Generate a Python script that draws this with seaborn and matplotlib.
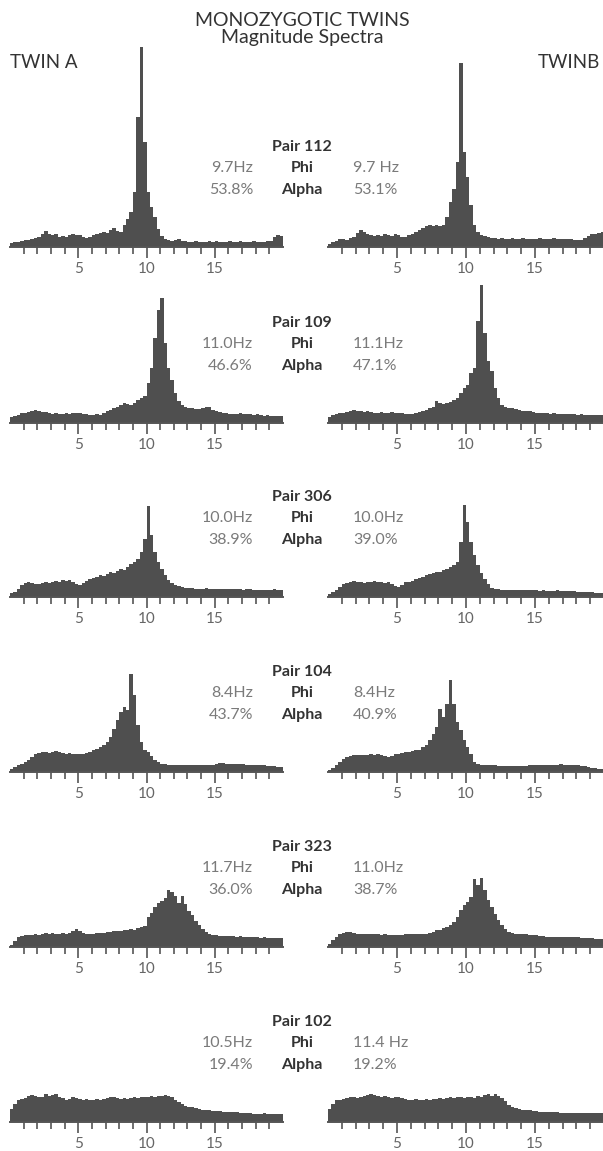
import numpy as np
import pandas as pd
import matplotlib
matplotlib.use("Agg")
import matplotlib.pyplot as plt
import seaborn as sns

sns.set_style("white")
plt.rcParams['font.family'] = ['Lato', 'DejaVu Sans']

# spectra: magnitude per 0.25 Hz bin, 0-20 Hz (80 bins)
bin_mid = np.arange(0, 20, 0.25) + 0.125

p112_a = [4, 5, 5, 6, 7, 7, 8, 9, 10, 13, 16, 13, 12, 13, 10, 11, 10, 12, 13, 12,
          12, 10, 9, 10, 12, 13, 14, 15, 14, 17, 19, 16, 15, 22, 28, 35, 55, 130, 200, 105,
          55, 40, 30, 18, 11, 8, 7, 6, 7, 8, 6, 6, 5, 5, 6, 5, 5, 5, 6, 5,
          6, 5, 5, 5, 6, 5, 5, 6, 5, 5, 5, 6, 5, 5, 5, 6, 6, 10, 12, 11]
p112_b = [3, 5, 6, 8, 8, 7, 9, 10, 14, 17, 15, 13, 12, 11, 12, 11, 13, 12, 11, 13,
          12, 10, 10, 12, 13, 15, 17, 19, 21, 22, 21, 22, 21, 22, 30, 45, 58, 85, 184, 95,
          70, 42, 22, 15, 12, 11, 10, 9, 9, 8, 9, 8, 8, 9, 8, 8, 9, 8, 8, 8,
          8, 9, 8, 8, 8, 9, 8, 8, 8, 8, 8, 7, 7, 7, 9, 11, 13, 13, 14, 15]
p109_a = [6, 7, 8, 10, 10, 11, 12, 13, 12, 11, 11, 10, 9, 10, 9, 9, 10, 9, 10, 10,
          10, 9, 9, 8, 8, 9, 8, 10, 12, 13, 15, 16, 18, 20, 19, 18, 20, 23, 25, 27,
          40, 55, 85, 113, 125, 80, 55, 43, 30, 22, 18, 16, 15, 15, 14, 14, 15, 16, 16, 13,
          12, 11, 10, 10, 9, 9, 9, 10, 9, 9, 9, 8, 9, 8, 7, 8, 7, 7, 7, 7]
p109_b = [6, 8, 9, 10, 10, 11, 12, 13, 12, 12, 11, 12, 11, 10, 10, 11, 10, 10, 11, 10,
          10, 10, 9, 9, 9, 10, 11, 12, 13, 15, 16, 22, 20, 19, 20, 21, 23, 25, 30, 35,
          38, 50, 55, 102, 138, 90, 62, 52, 35, 25, 18, 16, 15, 15, 14, 13, 12, 12, 12, 11,
          10, 10, 10, 10, 9, 10, 9, 9, 9, 9, 9, 9, 8, 9, 8, 8, 8, 8, 8, 8]
p306_a = [4, 5, 8, 12, 14, 15, 14, 13, 13, 14, 15, 14, 15, 16, 15, 17, 16, 17, 15, 13,
          12, 14, 16, 18, 19, 20, 22, 21, 23, 25, 24, 26, 28, 27, 30, 33, 35, 38, 45, 58,
          91, 62, 45, 35, 28, 22, 17, 14, 12, 11, 10, 9, 9, 9, 8, 8, 8, 9, 8, 8,
          8, 8, 8, 8, 8, 8, 8, 8, 7, 8, 8, 7, 7, 7, 7, 7, 7, 8, 7, 7]
p306_b = [3, 5, 7, 10, 13, 14, 15, 16, 15, 15, 14, 15, 15, 16, 15, 15, 14, 15, 13, 11,
          10, 12, 15, 15, 16, 18, 19, 20, 22, 23, 24, 25, 25, 27, 28, 30, 32, 35, 55, 92,
          75, 55, 42, 32, 24, 18, 13, 9, 8, 8, 7, 7, 7, 7, 7, 7, 7, 7, 7, 7,
          7, 6, 7, 6, 6, 6, 7, 6, 6, 6, 6, 6, 5, 5, 5, 5, 5, 4, 4, 4]
p104_a = [3, 5, 7, 8, 10, 12, 15, 18, 19, 20, 20, 19, 20, 21, 20, 19, 18, 19, 18, 18,
          18, 18, 19, 20, 22, 23, 25, 27, 30, 35, 43, 52, 60, 65, 62, 98, 77, 47, 30, 22,
          20, 16, 12, 10, 8, 8, 7, 7, 7, 7, 7, 7, 7, 7, 7, 7, 7, 7, 7, 7,
          8, 9, 9, 8, 8, 8, 8, 8, 8, 7, 7, 7, 7, 7, 7, 6, 6, 6, 5, 5]
p104_b = [2, 4, 7, 10, 13, 15, 16, 17, 17, 17, 17, 17, 18, 17, 18, 17, 16, 15, 16, 18,
          18, 19, 20, 20, 21, 22, 22, 25, 27, 32, 38, 45, 63, 55, 68, 92, 68, 50, 42, 32,
          25, 18, 10, 8, 7, 7, 7, 7, 7, 6, 6, 6, 6, 6, 6, 6, 6, 6, 7, 7,
          7, 7, 7, 7, 7, 7, 7, 8, 7, 7, 7, 7, 7, 6, 6, 5, 4, 4, 3, 3]
p323_a = [2, 6, 10, 11, 12, 12, 12, 13, 12, 13, 14, 13, 14, 13, 13, 14, 13, 14, 16, 18,
          16, 14, 13, 13, 13, 14, 14, 14, 15, 15, 16, 16, 16, 17, 17, 18, 17, 19, 20, 21,
          30, 34, 40, 44, 46, 49, 57, 55, 51, 44, 51, 43, 36, 32, 26, 22, 18, 15, 13, 12,
          12, 11, 11, 11, 11, 11, 10, 11, 10, 10, 10, 10, 10, 9, 10, 9, 9, 9, 9, 9]
p323_b = [3, 7, 10, 13, 14, 15, 15, 14, 13, 13, 13, 13, 13, 13, 13, 12, 13, 12, 12, 12,
          12, 12, 13, 13, 13, 13, 13, 13, 13, 14, 15, 17, 17, 19, 20, 22, 25, 30, 37, 42,
          45, 50, 68, 62, 69, 57, 47, 40, 33, 27, 22, 18, 15, 14, 13, 13, 13, 13, 12, 12,
          12, 11, 11, 10, 10, 10, 10, 10, 10, 10, 10, 10, 10, 9, 9, 9, 9, 8, 8, 8]
p102_a = [13, 18, 22, 23, 24, 26, 27, 26, 25, 25, 28, 26, 27, 28, 25, 24, 22, 23, 25, 24,
          23, 22, 23, 22, 22, 23, 22, 23, 24, 25, 25, 24, 23, 24, 23, 24, 25, 24, 25, 25,
          25, 26, 25, 26, 26, 27, 26, 25, 22, 20, 18, 16, 15, 15, 14, 13, 12, 12, 12, 11,
          11, 11, 10, 10, 10, 10, 10, 9, 9, 9, 9, 8, 8, 8, 9, 8, 8, 8, 8, 8]
p102_b = [13, 18, 22, 22, 23, 24, 25, 25, 24, 25, 26, 27, 28, 27, 26, 25, 26, 25, 24, 25,
          25, 24, 23, 22, 22, 23, 22, 22, 23, 22, 23, 23, 24, 23, 24, 25, 24, 25, 25, 24,
          25, 25, 24, 26, 25, 27, 28, 26, 28, 26, 24, 21, 17, 15, 14, 13, 12, 12, 12, 11,
          11, 10, 10, 10, 10, 10, 10, 9, 9, 9, 9, 9, 9, 9, 9, 9, 9, 9, 9, 9]

pairs = ['Pair 112', 'Pair 109', 'Pair 306', 'Pair 104', 'Pair 323', 'Pair 102']
phi_a = ['9.7Hz', '11.0Hz', '10.0Hz', '8.4Hz', '11.7Hz', '10.5Hz']
phi_b = ['9.7 Hz', '11.1Hz', '10.0Hz', '8.4Hz', '11.0Hz', '11.4 Hz']
alpha_a = ['53.8%', '46.6%', '38.9%', '43.7%', '36.0%', '19.4%']
alpha_b = ['53.1%', '47.1%', '39.0%', '40.9%', '38.7%', '19.2%']
twin_a = [p112_a, p109_a, p306_a, p104_a, p323_a, p102_a]
twin_b = [p112_b, p109_b, p306_b, p104_b, p323_b, p102_b]

W, H = 603, 1151
FILL = '#4f4f4f'
AX_COL = '#555555'
VAL_COL = '#7a7a7a'
baselines = [247, 423, 597, 772, 947, 1122]
panel_h = 205

fig = plt.figure(figsize=(W / 100, H / 100), dpi=100)


def fx(x):
    return x / W


def fy(y):
    return 1 - y / H


def draw_panel(left, width, base, spec):
    ax = fig.add_axes([fx(left), fy(base), fx(width), panel_h / H])
    ax.set_facecolor('none')
    df = pd.DataFrame({'hz': bin_mid, 'mag': spec})
    sns.histplot(data=df, x='hz', weights='mag', binwidth=0.25, binrange=(0, 20),
                 element='step', fill=True, color=FILL, alpha=1, linewidth=0, ax=ax)
    ax.set_xlim(0, 20)
    ax.set_ylim(0, panel_h)
    ax.set_xticks([5, 10, 15])
    ax.set_xticks(range(1, 20), minor=True)
    ax.tick_params(axis='x', which='both', bottom=True, direction='out', width=1.2,
                   colors=AX_COL)
    ax.tick_params(axis='x', which='major', length=8, labelsize=11,
                   labelcolor='#666666', pad=3)
    ax.tick_params(axis='x', which='minor', length=5)
    ax.set_yticks([])
    ax.set_xlabel('')
    ax.set_ylabel('')
    for s in ['left', 'right', 'top']:
        ax.spines[s].set_visible(False)
    ax.spines['bottom'].set_color(AX_COL)
    ax.spines['bottom'].set_linewidth(1.4)
    return ax


for i, base in enumerate(baselines):
    draw_panel(10, 273, base, twin_a[i])
    draw_panel(328, 276, base, twin_b[i])
    fig.text(fx(302), fy(base - 100), pairs[i], ha='center', va='center',
             fontsize=11.5, fontweight='bold', color='#333333')
    fig.text(fx(302), fy(base - 79), 'Phi', ha='center', va='center',
             fontsize=11.5, fontweight='bold', color='#333333')
    fig.text(fx(302), fy(base - 57), 'Alpha', ha='center', va='center',
             fontsize=11.5, fontweight='bold', color='#333333')
    fig.text(fx(253), fy(base - 79), phi_a[i], ha='right', va='center',
             fontsize=11.5, color=VAL_COL)
    fig.text(fx(253), fy(base - 57), alpha_a[i], ha='right', va='center',
             fontsize=11.5, color=VAL_COL)
    fig.text(fx(353), fy(base - 79), phi_b[i], ha='left', va='center',
             fontsize=11.5, color=VAL_COL)
    fig.text(fx(353), fy(base - 57), alpha_b[i], ha='left', va='center',
             fontsize=11.5, color=VAL_COL)

fig.text(fx(302), fy(20), 'MONOZYGOTIC TWINS', ha='center', va='center',
         fontsize=14, color='#333333')
fig.text(fx(302), fy(38), 'Magnitude Spectra', ha='center', va='center',
         fontsize=14, color='#333333')
fig.text(fx(10), fy(63), 'TWIN A', ha='left', va='center', fontsize=13.5, color='#333333')
fig.text(fx(600), fy(63), 'TWINB', ha='right', va='center', fontsize=13.5, color='#333333')

fig.savefig('out.png', dpi=100, facecolor='white')
